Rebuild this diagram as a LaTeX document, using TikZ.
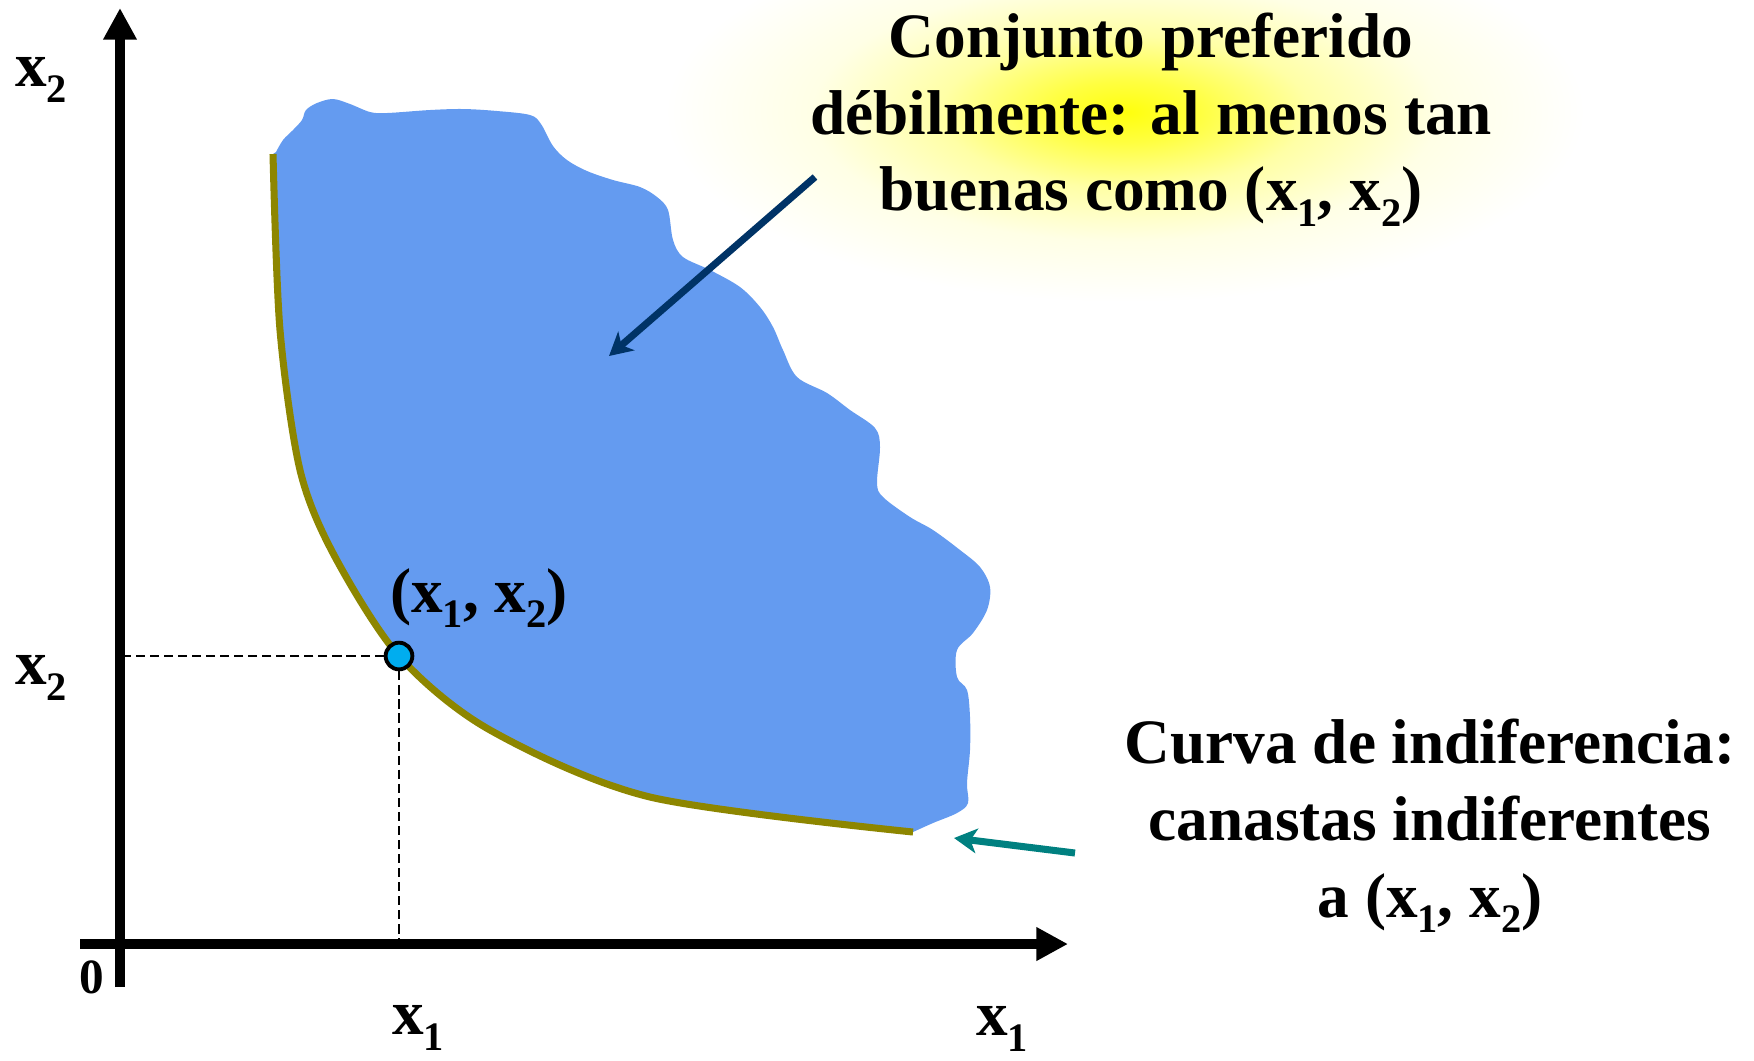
\documentclass[tikz,border=0pt]{standalone}
\usepackage{fontspec}
\setmainfont{Liberation Serif}
\usepackage{tikz}
\usetikzlibrary{arrows.meta}
\usetikzlibrary{positioning,calc}
\definecolor{setblue}{RGB}{100,155,240}
\definecolor{navyarrow}{RGB}{0,51,102}
\definecolor{tealarrow}{RGB}{0,128,128}
\pgfdeclareradialshading{softglow}{\pgfpoint{0bp}{0bp}}{color(0bp)=(yellow!95!white); color(4bp)=(yellow!75!white); color(10bp)=(yellow!35!white); color(17bp)=(yellow!10!white); color(25bp)=(white); color(50bp)=(white)}
\tikzstyle{axis}=[draw,line width=2.8pt,-{Triangle[length=9pt,width=9pt]}]
\tikzstyle{guide}=[draw,line width=0.45pt,dash pattern=on 2.6pt off 1.4pt]
\tikzstyle{indcurve}=[draw,olive,line width=2pt]
\tikzstyle{prefset}=[fill=setblue]
\tikzstyle{bundle}=[circle,draw=black,line width=1.1pt,fill=cyan,minimum size=7.6pt,inner sep=0pt]
\tikzstyle{lbl}=[font=\bfseries\fontsize{18}{21.8}\selectfont,inner sep=0pt]
\tikzstyle{note}=[lbl,align=center]
\tikzstyle{pointer}=[draw,line width=2pt,-{Stealth[length=6.5pt,width=7pt,inset=1.8pt]}]
\newcommand{\xs}[1]{x\raisebox{-0.25em}{\fontsize{11.5}{12}\selectfont #1}}

\begin{document}
\begin{tikzpicture}[x=0.1mm,y=-0.1mm]
    \useasboundingbox (0,0) rectangle (1754,1060);

    % glow behind the upper note
    \shade[shading=softglow] (1125,112) ellipse [x radius=4.6cm, y radius=1.9cm];

    % weakly preferred set
    \fill[prefset] plot[smooth,tension=0.55] coordinates {(276,152) (283,140) (293,130) (302,120) (306,110) (317,103) (333,99) (350,104) (370,112) (387,113) (430,110) (463,109) (497,111) (530,115) (541,124) (553,146) (567,160) (587,171) (613,180) (640,187) (657,197) (668,210) (673,240) (683,257) (710,270) (740,287) (760,307) (773,327) (783,350) (797,377) (827,393) (850,410) (875,428) (880,447) (877,483) (883,497) (910,517) (933,530) (960,550) (980,567) (990,587) (987,610) (973,633) (957,650) (957,677) (967,690) (970,717) (970,750) (967,783) (968,803) (957,813) (933,823) (913,832)}
        -- plot[smooth] coordinates {(913,832) (650,797) (490,730) (399,656) (334,555) (300,470) (280,330) (273,154)} -- cycle;

    % indifference curve
    \path[indcurve] plot[smooth] coordinates {(273,154) (280,330) (300,470) (334,555) (399,656) (490,730) (650,797) (913,832)};

    % axes
    \coordinate (O) at (120,944);
    \coordinate (xstart) at (80,944);
    \coordinate (xend) at (1068,944);
    \coordinate (ystart) at (120,987);
    \coordinate (yend) at (120,8);
    \path[axis] (xstart) -- (xend);
    \path[axis] (ystart) -- (yend);

    % the bundle and its guides
    \node[bundle] (bundle) at (399,656) {};
    \path[guide] (bundle) -- (bundle -| O);
    \path[guide] (bundle) -- (bundle |- O);

    % axis labels
    \foreach \x/\y/\name/\txt in {41/80/ytop/\xs{2}, 41/678/ymid/\xs{2}, 418/1028/xmid/\xs{1}, 1002/1029/xend/\xs{1}}
        \node[lbl] (lbl-\name) at (\x,\y) {\txt};
    \node[lbl,font=\bfseries\fontsize{14}{16}\selectfont] (zero) at (92,977) {0};
    \node[lbl] (bundlelbl) at (479,598) {(\xs{1}, \xs{2})};

    % notes
    \node[note] (prefnote) at (1151,120) {Conjunto preferido\\d\'ebilmente: al menos tan\\buenas como (\xs{1}, \xs{2})};
    \node[note] (indnote) at (1430,826) {Curva de indiferencia:\\canastas indiferentes\\a (\xs{1}, \xs{2})};

    % pointers
    \coordinate (prefTail) at (815,177);
    \coordinate (prefTip) at (609,356);
    \coordinate (indTail) at (1075,853);
    \coordinate (indTip) at (954,838);
    \foreach \src/\dst/\col in {prefTail/prefTip/navyarrow, indTail/indTip/tealarrow}
        \path[pointer,\col] (\src) -- (\dst);
\end{tikzpicture}
\end{document}
